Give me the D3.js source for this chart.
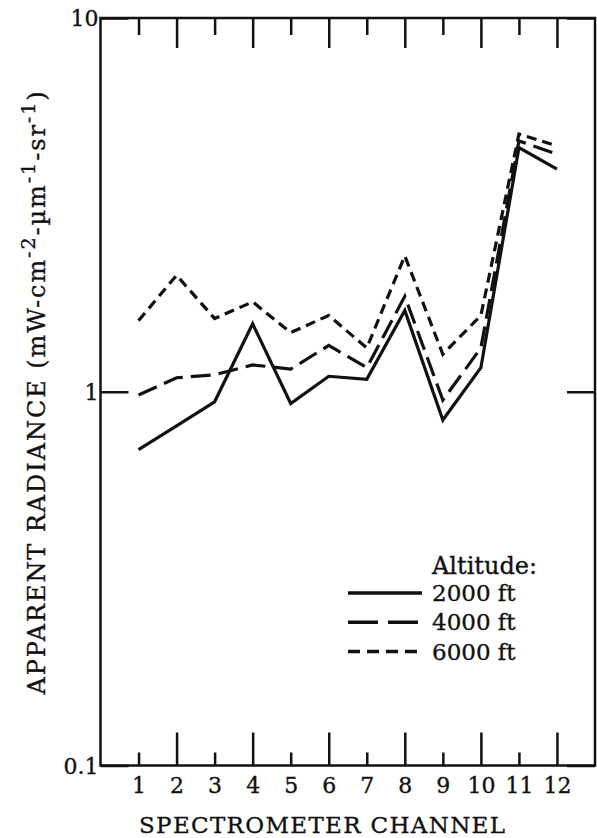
<!DOCTYPE html>
<html>
<head>
<meta charset="utf-8">
<script src="https://cdn.jsdelivr.net/npm/d3@7"></script>
<style>
  body { margin: 0; background: #fff; }
  text { font-family: "DejaVu Serif", "Liberation Serif", serif; fill: #111; stroke: #111; stroke-width: 0.35px; }
</style>
</head>
<body>
<div id="chart"></div>
<script>
// values
const channels = [1, 2, 3, 4, 5, 6, 7, 8, 9, 10, 11, 12];
const alt2000 = [0.70, 0.81, 0.94, 1.52, 0.93, 1.10, 1.08, 1.65, 0.84, 1.16, 4.50, 3.94];
const alt4000 = [0.98, 1.09, 1.11, 1.18, 1.15, 1.33, 1.16, 1.80, 0.95, 1.31, 4.69, 4.32];
const alt6000 = [1.55, 2.05, 1.57, 1.74, 1.44, 1.60, 1.31, 2.31, 1.26, 1.60, 4.89, 4.55];
const seriesNames = ["2000 ft", "4000 ft", "6000 ft"];
const yTicks = [0.1, 1, 10];

const width = 597, height = 838;
const frame = {left: 100.5, right: 595, top: 18, bottom: 765.5};
const ink = "#111";

const svg = d3.select("#chart")
    .append("svg")
    .attr("width", width)
    .attr("height", height);

// scales
const x = d3.scaleLinear()
    .domain([0, 13])
    .range([frame.left, frame.right]);

const y = d3.scaleLog()
    .domain([0.1, 10])
    .range([frame.bottom, frame.top]);

// bottom axis, ticks pointing in, even channels longer
const xAxis = svg.append("g")
    .attr("transform", `translate(0, ${frame.bottom})`)
    .call(d3.axisBottom(x).tickValues(channels).tickSize(-13).tickPadding(0).tickFormat(d3.format("d")));
xAxis.select(".domain").remove();
xAxis.selectAll(".tick line")
    .attr("y2", d => d % 2 ? -13 : -33)
    .attr("stroke", ink)
    .attr("stroke-width", 2.5);
xAxis.selectAll(".tick text")
    .attr("y", 27)
    .attr("dy", 0)
    .style("font-size", "22px")
    .attr("fill", ink);

// top axis, no labels
const xTop = svg.append("g")
    .attr("transform", `translate(0, ${frame.top})`)
    .call(d3.axisTop(x).tickValues(channels).tickFormat(""));
xTop.select(".domain").remove();
xTop.selectAll(".tick line")
    .attr("y2", d => d % 2 ? 17 : 30)
    .attr("stroke", ink)
    .attr("stroke-width", 2.5);

// Y axis left
const yAxis = svg.append("g")
    .attr("transform", `translate(${frame.left}, 0)`)
    .call(d3.axisLeft(y).tickValues(yTicks).tickSize(-28).tickPadding(4).tickFormat(d => d));
yAxis.select(".domain").remove();
yAxis.selectAll(".tick line")
    .attr("stroke", ink)
    .attr("stroke-width", 2.5);
yAxis.selectAll(".tick text")
    .attr("x", -2)
    .attr("dy", "0.36em")
    .style("font-size", "22px")
    .attr("fill", ink);

// Y axis right
const yRight = svg.append("g")
    .attr("transform", `translate(${frame.right}, 0)`)
    .call(d3.axisRight(y).tickValues(yTicks).tickSize(-28).tickFormat(""));
yRight.select(".domain").remove();
yRight.selectAll(".tick line")
    .attr("stroke", ink)
    .attr("stroke-width", 2.5);

// frame
svg.append("rect")
    .attr("x", frame.left)
    .attr("y", frame.top)
    .attr("width", frame.right - frame.left)
    .attr("height", frame.bottom - frame.top)
    .attr("fill", "none")
    .attr("stroke", ink)
    .attr("stroke-width", 2.5);

// the three altitude lines
const series = [
    {name: seriesNames[0], values: alt2000, dash: null},
    {name: seriesNames[1], values: alt4000, dash: "20,8"},
    {name: seriesNames[2], values: alt6000, dash: "10,6"}
];

const line = d3.line()
    .x((d, i) => x(channels[i]))
    .y(d => y(d));

svg.selectAll("seriesLines")
    .data(series)
    .join("path")
    .attr("d", d => line(d.values))
    .attr("fill", "none")
    .attr("stroke", ink)
    .attr("stroke-width", 3.2)
    .attr("stroke-linejoin", "miter")
    .attr("stroke-dasharray", d => d.dash);

// legend
const legend = svg.append("g");
legend.append("text")
    .attr("x", 432)
    .attr("y", 574)
    .style("font-size", "24px")
    .text("Altitude:");

const legendDash = [null, "30,10", "12,7"];
const rows = legend.selectAll("rows")
    .data(series)
    .join("g")
    .attr("transform", (d, i) => `translate(0, ${593 + i * 29.3})`);
rows.append("line")
    .attr("x1", 348)
    .attr("x2", 422)
    .attr("stroke", ink)
    .attr("stroke-width", 3.5)
    .attr("stroke-dasharray", (d, i) => legendDash[i]);
rows.append("text")
    .attr("x", 432)
    .attr("y", 8)
    .style("font-size", "23px")
    .text(d => d.name);

// axis titles
svg.append("text")
    .attr("x", 322)
    .attr("y", 833)
    .attr("text-anchor", "middle")
    .attr("textLength", 366)
    .attr("lengthAdjust", "spacing")
    .style("font-size", "23px")
    .text("SPECTROMETER CHANNEL");

const yTitle = svg.append("text")
    .attr("transform", "translate(45, 392) rotate(-90)")
    .attr("text-anchor", "middle")
    .style("font-size", "24px");
yTitle.append("tspan").text("APPARENT RADIANCE (mW-cm");
yTitle.append("tspan").attr("dy", -10).style("font-size", "19px").text("-2");
yTitle.append("tspan").attr("dy", 10).text("-µm");
yTitle.append("tspan").attr("dy", -10).style("font-size", "19px").text("-1");
yTitle.append("tspan").attr("dy", 10).text("-sr");
yTitle.append("tspan").attr("dy", -10).style("font-size", "19px").text("-1");
yTitle.append("tspan").attr("dy", 10).text(")");

// stretch the title to the reference length with letter spacing
const natural = yTitle.node().getComputedTextLength();
const nChars = yTitle.text().length;
yTitle.style("letter-spacing", `${(605 - natural) / nChars}px`);
</script>
</body>
</html>
